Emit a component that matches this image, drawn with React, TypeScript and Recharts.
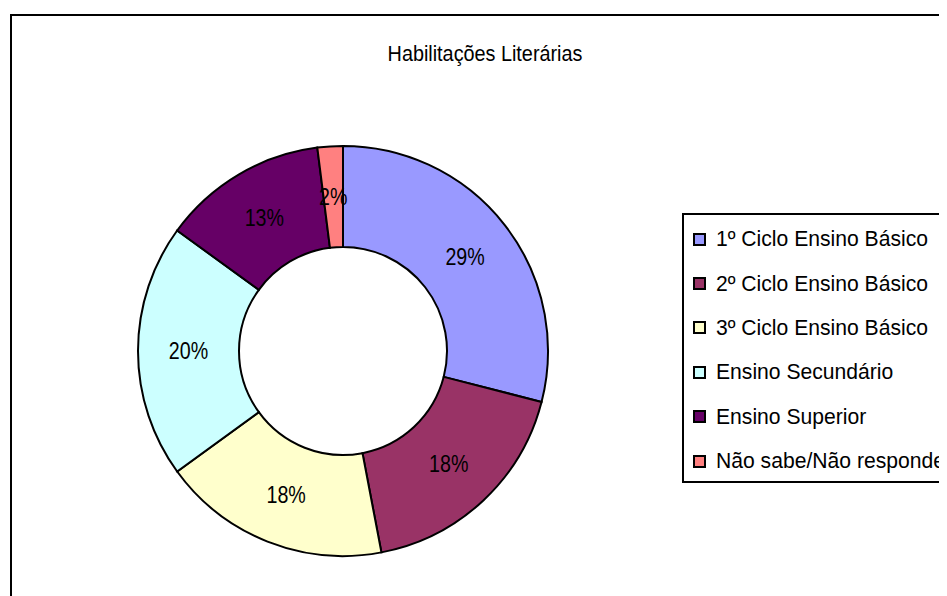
import React from "react";
import { PieChart, Pie, Cell, Legend } from "recharts";

const categories = [
  "1º Ciclo Ensino Básico",
  "2º Ciclo Ensino Básico",
  "3º Ciclo Ensino Básico",
  "Ensino Secundário",
  "Ensino Superior",
  "Não sabe/Não responde",
];
const shares = [29, 18, 18, 20, 13, 2];
const colors = ["#9999FF", "#993366", "#FFFFCC", "#CCFFFF", "#660066", "#FF8080"];
const title = "Habilitações Literárias";

const data = categories.map((name, i) => ({ name, value: shares[i] }));

const FONT = '"Liberation Sans", Arial, sans-serif';
const RAD = Math.PI / 180;

function renderLabel(props: any) {
  const { cx, cy, midAngle, innerRadius, outerRadius, percent } = props;
  const r = (innerRadius + outerRadius) / 2;
  const x = cx + r * Math.cos(-midAngle * RAD);
  const y = cy + r * Math.sin(-midAngle * RAD);
  return (
    <text
      transform={`translate(${x} ${y}) scale(0.82 1)`}
      x={0}
      y={0}
      textAnchor="middle"
      dominantBaseline="central"
      fontFamily={FONT}
      fontSize={24}
      fill="#000"
    >
      {`${Math.round(percent * 100)}%`}
    </text>
  );
}

function LegendBox({ payload }: any) {
  return (
    <div
      style={{
        border: "2px solid #000",
        width: 300,
        height: 270,
        paddingTop: 2,
        boxSizing: "border-box",
        background: "#fff",
        fontFamily: FONT,
      }}
    >
      {(payload || []).map((entry: any) => (
        <div key={entry.value} style={{ height: 44.4, display: "flex", alignItems: "center", whiteSpace: "nowrap" }}>
          <span
            style={{
              display: "inline-block",
              width: 9,
              height: 9,
              border: "2px solid #000",
              background: entry.color,
              marginLeft: 9,
              marginRight: 10,
              flex: "none",
            }}
          />
          <span
            style={{
              display: "inline-block",
              fontSize: 22,
              color: "#000",
              transform: "scaleX(0.96)",
              transformOrigin: "left center",
            }}
          >
            {entry.value}
          </span>
        </div>
      ))}
    </div>
  );
}

export default function App() {
  return (
    <div style={{ position: "relative", width: 939, height: 588, overflow: "hidden", background: "#fff" }}>
      <div
        style={{
          position: "absolute",
          left: 2,
          top: 6,
          width: 1000,
          height: 700,
          border: "2px solid #000",
        }}
      />
      <div
        style={{
          position: "absolute",
          left: 277,
          width: 400,
          top: 33,
          textAlign: "center",
          fontFamily: FONT,
          fontSize: 22,
          color: "#000",
          transform: "scaleX(0.9)",
          transformOrigin: "center",
        }}
      >
        {title}
      </div>
      <div style={{ position: "absolute", left: 0, top: 0 }}>
        <PieChart width={939} height={588} margin={{ top: 0, right: 0, bottom: 0, left: 0 }}>
          <Pie
            data={data}
            dataKey="value"
            nameKey="name"
            cx={335}
            cy={343}
            innerRadius={104}
            outerRadius={205}
            startAngle={90}
            endAngle={-270}
            stroke="#000"
            strokeWidth={2}
            label={renderLabel}
            labelLine={false}
            isAnimationActive={false}
          >
            {data.map((d, i) => (
              <Cell key={d.name} fill={colors[i]} />
            ))}
          </Pie>
          <Legend
            layout="vertical"
            content={<LegendBox />}
            wrapperStyle={{ position: "absolute", left: 674, top: 205, width: 300 }}
          />
        </PieChart>
      </div>
    </div>
  );
}
